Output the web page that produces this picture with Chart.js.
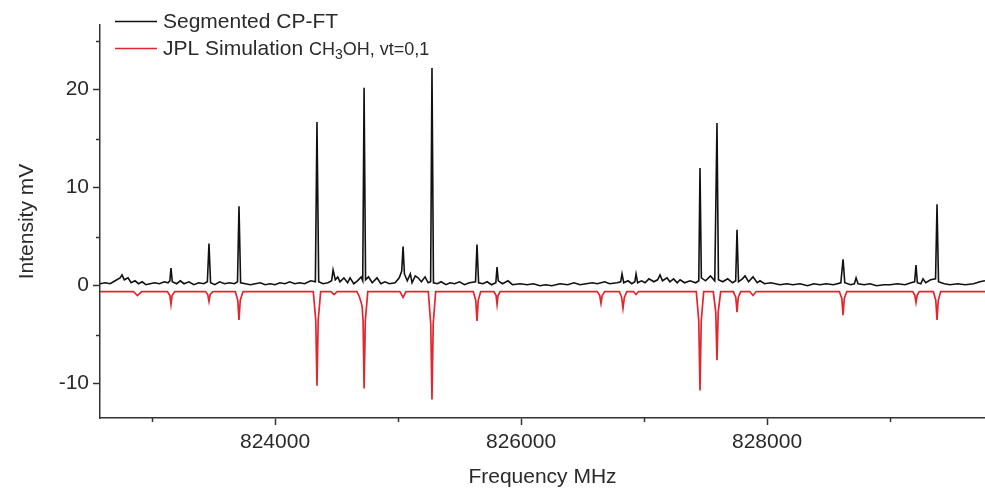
<!DOCTYPE html>
<html>
<head>
<meta charset="utf-8">
<script src="https://cdn.jsdelivr.net/npm/chart.js@4"></script>
<style>
  html, body { margin: 0; padding: 0; background: #fff; }
  #wrap { width: 985px; height: 490px; }
</style>
</head>
<body>
<div id="wrap"><canvas id="spectrumChart" width="985" height="490"></canvas></div>
<script>
// frequency (MHz), intensity (mV)
var cpftTrace = [
    [822577, 0.2], [822620, 0.3], [822660, 0.2], [822700, 0.5], [822740, 0.8], [822756, 1.1],
    [822775, 0.6], [822805, 0.8], [822830, 0.3], [822862, 0.5], [822890, 0.2], [822920, 0.4],
    [822950, 0.1], [822984, 0.2], [823020, 0.3], [823060, 0.2], [823100, 0.4], [823130, 0.3],
    [823145, 0.5], [823154, 1.8], [823165, 0.4], [823200, 0.2], [823230, 0.5], [823260, 0.2],
    [823300, 0.4], [823340, 0.1], [823380, 0.3], [823420, 0.2], [823450, 0.4], [823463, 4.3],
    [823476, 0.3], [823510, 0.1], [823550, 0.4], [823590, 0.2], [823630, 0.3], [823670, 0.2],
    [823695, 0.4], [823707, 8.1], [823720, 0.3], [823760, 0.2], [823800, 0.1], [823840, 0.2],
    [823880, 0.3], [823920, 0.1], [823960, 0.2], [824000, 0.1], [824040, 0.3], [824080, 0.2],
    [824120, 0.4], [824160, 0.2], [824200, 0.3], [824240, 0.2], [824290, 0.5], [824328, 0.4],
    [824341, 16.7], [824355, 0.4], [824390, 0.2], [824430, 0.3], [824460, 0.5], [824472, 1.6],
    [824490, 0.6], [824510, 0.9], [824528, 0.4], [824560, 0.8], [824590, 0.3], [824610, 0.8],
    [824640, 0.2], [824670, 0.5], [824700, 0.9], [824713, 0.5], [824724, 20.2], [824736, 0.6],
    [824760, 0.9], [824790, 0.3], [824829, 0.8], [824860, 0.2], [824894, 0.4], [824930, 0.2],
    [824976, 0.3], [825010, 0.8], [825030, 1.5], [825041, 4.0], [825052, 1.2], [825075, 0.5],
    [825100, 1.2], [825114, 0.3], [825140, 1.0], [825163, 0.8], [825190, 0.4], [825220, 0.9],
    [825245, 0.3], [825265, 0.4], [825276, 22.2], [825288, 0.3], [825320, 0.2], [825350, 0.4],
    [825390, 0.1], [825423, 0.3], [825460, 0.2], [825500, 0.4], [825540, 0.1], [825580, 0.3],
    [825630, 0.4], [825642, 4.2], [825655, 0.3], [825690, 0.2], [825724, 0.4], [825760, 0.1],
    [825795, 0.3], [825805, 1.9], [825815, 0.5], [825850, 0.2], [825894, 0.5], [825930, 0.1],
    [825992, 0.2], [826050, 0.1], [826100, 0.2], [826154, 0.0], [826200, 0.1], [826250, 0.0],
    [826317, 0.2], [826380, 0.1], [826430, 0.3], [826480, 0.1], [826530, 0.2], [826580, 0.3],
    [826620, 0.2], [826680, 0.4], [826720, 0.2], [826780, 0.3], [826810, 0.4], [826821, 1.2],
    [826835, 0.3], [826870, 0.5], [826900, 0.2], [826925, 0.4], [826935, 1.2], [826948, 0.3],
    [826980, 0.5], [827008, 0.3], [827040, 0.7], [827080, 0.4], [827110, 0.6], [827130, 1.1],
    [827150, 0.5], [827187, 0.8], [827210, 0.4], [827240, 0.7], [827270, 0.3], [827293, 0.6],
    [827330, 0.3], [827374, 0.5], [827420, 0.3], [827445, 0.5], [827455, 12.0], [827466, 0.8],
    [827500, 0.5], [827540, 1.0], [827575, 0.5], [827593, 16.6], [827605, 0.6], [827640, 0.4],
    [827680, 0.7], [827720, 0.3], [827745, 0.5], [827756, 5.7], [827768, 0.4], [827800, 0.7],
    [827821, 1.0], [827850, 0.4], [827886, 0.9], [827920, 0.3], [827943, 0.5], [827980, 0.2],
    [828030, 0.3], [828106, 0.1], [828160, 0.2], [828210, 0.1], [828268, 0.2], [828330, 0.0],
    [828380, 0.2], [828431, 0.1], [828480, 0.2], [828540, 0.1], [828600, 0.3], [828618, 2.7],
    [828632, 0.3], [828680, 0.1], [828710, 0.2], [828724, 0.8], [828740, 0.2], [828790, 0.1],
    [828837, 0.2], [828890, 0.0], [828950, 0.1], [829000, 0.1], [829060, 0.2], [829122, 0.1],
    [829170, 0.3], [829200, 0.4], [829211, 2.1], [829222, 0.3], [829250, 0.2], [829268, 0.7],
    [829290, 0.3], [829330, 0.6], [829370, 0.7], [829382, 8.3], [829394, 0.4], [829440, 0.2],
    [829488, 0.1], [829550, 0.2], [829610, 0.1], [829680, 0.2], [829730, 0.4], [829772, 0.5]
];

// JPL catalogue simulation, drawn inverted below the baseline
var jplTrace = [
    [822577, -0.6], [822850, -0.6], [822882, -1.0], [822915, -0.6],
    [823125, -0.6], [823145, -1.0], [823154, -1.9], [823163, -1.0], [823185, -0.6],
    [823435, -0.6], [823453, -0.9], [823463, -1.6], [823473, -0.9], [823495, -0.6],
    [823677, -0.6], [823697, -1.5], [823707, -3.5], [823717, -1.5], [823740, -0.6],
    [824311, -0.6], [824331, -3.5], [824341, -10.2], [824351, -3.5], [824371, -0.6],
    [824455, -0.6], [824480, -0.9], [824505, -0.6],
    [824665, -0.6], [824685, -1.1], [824698, -1.6], [824708, -2.1], [824716, -3.6],
    [824724, -10.5], [824734, -3.6], [824754, -0.6],
    [825015, -0.6], [825041, -1.2], [825065, -0.6],
    [825246, -0.6], [825266, -3.9], [825276, -11.6], [825286, -3.9], [825306, -0.6],
    [825612, -0.6], [825632, -1.5], [825642, -3.6], [825652, -1.5], [825672, -0.6],
    [825780, -0.6], [825797, -1.0], [825805, -1.9], [825813, -1.0], [825830, -0.6],
    [826620, -0.6], [826640, -1.0], [826650, -1.8], [826660, -1.0], [826680, -0.6],
    [826800, -0.6], [826818, -1.2], [826829, -2.3], [826840, -1.2], [826860, -0.6],
    [826915, -0.6], [826935, -0.9], [826955, -0.6],
    [827425, -0.6], [827445, -3.6], [827455, -10.7], [827465, -3.6], [827485, -0.6],
    [827563, -0.6], [827583, -2.7], [827593, -7.6], [827603, -2.7], [827623, -0.6],
    [827726, -0.6], [827746, -1.2], [827756, -2.7], [827766, -1.2], [827786, -0.6],
    [827860, -0.6], [827886, -1.0], [827912, -0.6],
    [828588, -0.6], [828608, -1.3], [828618, -3.0], [828628, -1.3], [828648, -0.6],
    [829185, -0.6], [829202, -1.0], [829211, -1.7], [829220, -1.0], [829237, -0.6],
    [829352, -0.6], [829372, -1.5], [829382, -3.5], [829392, -1.5], [829412, -0.6],
    [829772, -0.6]
];

var xRange = [822577, 829772];
var yRange = [-13.5, 26.6];
var xTicks = [823000, 824000, 825000, 826000, 827000, 828000, 829000];
var xLabelled = [824000, 826000, 828000];
var yTicks = [-10, -5, 0, 5, 10, 15, 20, 25];
var yLabelled = [-10, 0, 10, 20];

var seriesNames = ['Segmented CP-FT', 'JPL Simulation'];
var seriesColors = ['#111111', '#e2262c'];

var axisColor = '#333333';
var textColor = '#2a2a2a';
var fontFamily = '"Liberation Sans", Arial, Helvetica, sans-serif';

function toPoints(arr) {
    return arr.map(function (p) { return { x: p[0], y: p[1] }; });
}

// minor ticks are shorter than labelled ones, so draw them here
var minorTicks = {
    id: 'minorTicks',
    afterDraw: function (chart) {
        var ctx = chart.ctx;
        var xs = chart.scales.x, ys = chart.scales.y;
        ctx.save();
        ctx.strokeStyle = axisColor;
        ctx.lineWidth = 1.5;
        ctx.beginPath();
        xTicks.forEach(function (v) {
            if (xLabelled.indexOf(v) >= 0) return;
            var px = Math.round(xs.getPixelForValue(v)) + 0.5;
            ctx.moveTo(px, ys.bottom);
            ctx.lineTo(px, ys.bottom + 4);
        });
        yTicks.forEach(function (v) {
            if (yLabelled.indexOf(v) >= 0) return;
            var py = Math.round(ys.getPixelForValue(v)) + 0.5;
            ctx.moveTo(xs.left, py);
            ctx.lineTo(xs.left - 4, py);
        });
        ctx.stroke();
        ctx.restore();
    }
};

// legend with the subscripted formula
var spectrumLegend = {
    id: 'spectrumLegend',
    afterDraw: function (chart) {
        var ctx = chart.ctx;
        var rows = [21, 48];
        ctx.save();
        rows.forEach(function (y, i) {
            ctx.strokeStyle = seriesColors[i];
            ctx.lineWidth = 1.4;
            ctx.beginPath();
            ctx.moveTo(115, y + 0.5);
            ctx.lineTo(157, y + 0.5);
            ctx.stroke();
        });
        ctx.fillStyle = textColor;
        ctx.textBaseline = 'alphabetic';
        ctx.textAlign = 'left';
        ctx.font = '21px ' + fontFamily;
        ctx.fillText(seriesNames[0], 163, rows[0] + 7);
        ctx.fillText(seriesNames[1], 163, rows[1] + 7);
        var x = 163 + ctx.measureText(seriesNames[1] + ' ').width;
        ctx.font = '18px ' + fontFamily;
        ctx.fillText('CH', x, rows[1] + 7);
        x += ctx.measureText('CH').width;
        ctx.font = '14px ' + fontFamily;
        ctx.fillText('3', x, rows[1] + 11);
        x += ctx.measureText('3').width;
        ctx.font = '18px ' + fontFamily;
        ctx.fillText('OH, vt=0,1', x, rows[1] + 7);
        ctx.restore();
    }
};

var config = {
    type: 'line',
    data: {
        datasets: [{
            label: seriesNames[0],
            data: toPoints(cpftTrace),
            borderColor: seriesColors[0],
            borderWidth: 1.6,
            pointRadius: 0,
            tension: 0,
            fill: false
        }, {
            label: seriesNames[1],
            data: toPoints(jplTrace),
            borderColor: seriesColors[1],
            borderWidth: 1.7,
            pointRadius: 0,
            tension: 0,
            fill: false
        }]
    },
    options: {
        responsive: false,
        animation: false,
        layout: { padding: { top: 25, left: 0, right: 0, bottom: 0 } },
        plugins: {
            legend: { display: false },
            tooltip: { enabled: false }
        },
        scales: {
            x: {
                type: 'linear',
                min: xRange[0],
                max: xRange[1],
                afterBuildTicks: function (scale) {
                    scale.ticks = xTicks.map(function (v) { return { value: v }; });
                },
                afterFit: function (scale) { scale.height = 72; },
                border: { display: true, color: axisColor, width: 1.5 },
                grid: {
                    drawOnChartArea: false,
                    drawTicks: true,
                    tickLength: 7,
                    tickWidth: 1.5,
                    tickColor: function (ctx) {
                        return xLabelled.indexOf(ctx.tick.value) >= 0 ? axisColor : 'rgba(0,0,0,0)';
                    }
                },
                ticks: {
                    autoSkip: false,
                    maxRotation: 0,
                    padding: 5,
                    color: textColor,
                    font: { family: fontFamily, size: 21 },
                    callback: function (v) {
                        return xLabelled.indexOf(v) >= 0 ? String(v) : '';
                    }
                },
                title: {
                    display: true,
                    text: 'Frequency MHz',
                    color: textColor,
                    font: { family: fontFamily, size: 21 },
                    padding: { top: 0, bottom: 0 }
                }
            },
            y: {
                type: 'linear',
                min: yRange[0],
                max: yRange[1],
                afterBuildTicks: function (scale) {
                    scale.ticks = yTicks.map(function (v) { return { value: v }; });
                },
                afterFit: function (scale) { scale.width = 100; },
                border: { display: true, color: axisColor, width: 1.5 },
                grid: {
                    drawOnChartArea: false,
                    drawTicks: true,
                    tickLength: 7,
                    tickWidth: 1.5,
                    tickColor: function (ctx) {
                        return yLabelled.indexOf(ctx.tick.value) >= 0 ? axisColor : 'rgba(0,0,0,0)';
                    }
                },
                ticks: {
                    autoSkip: false,
                    padding: 4,
                    color: textColor,
                    font: { family: fontFamily, size: 21 },
                    callback: function (v) {
                        return yLabelled.indexOf(v) >= 0 ? String(v) : '';
                    }
                },
                title: {
                    display: true,
                    text: 'Intensity mV',
                    color: textColor,
                    font: { family: fontFamily, size: 21 },
                    padding: { top: 15, bottom: 0 }
                }
            }
        }
    },
    plugins: [minorTicks, spectrumLegend]
};

var spectrumChart = document.getElementById('spectrumChart').getContext('2d');
var chart = new Chart(spectrumChart, config);
</script>
</body>
</html>
